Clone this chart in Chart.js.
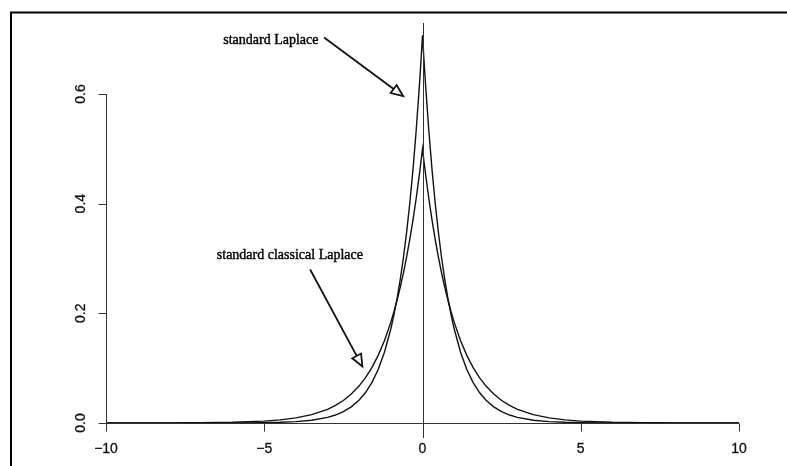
<!DOCTYPE html>
<html>
<head>
<meta charset="utf-8">
<script src="https://cdn.jsdelivr.net/npm/chart.js"></script>
<style>
  html, body { margin: 0; padding: 0; background: #fff; }
  canvas { display: block; }
</style>
</head>
<body>
<canvas id="chart" width="787" height="466"></canvas>
<script>
// x grid (denser near the cusp)
const xs = [-10, -8, -7, -6, -5, -4.5, -4, -3.5, -3, -2.75, -2.5, -2.25, -2, -1.8, -1.6, -1.4, -1.2,
  -1, -0.9, -0.8, -0.7, -0.6, -0.5, -0.4, -0.3, -0.2, -0.1, -0.05, 0,
  0.05, 0.1, 0.2, 0.3, 0.4, 0.5, 0.6, 0.7, 0.8, 0.9, 1,
  1.2, 1.4, 1.6, 1.8, 2, 2.25, 2.5, 2.75, 3, 3.5, 4, 4.5, 5, 6, 7, 8, 10];

// standard Laplace (peak ~0.707)
const stdLaplace = [0, 0, 0, 0.0001, 0.0006, 0.0012, 0.0025, 0.005, 0.0102, 0.0145, 0.0206, 0.0294, 0.0418, 0.0555, 0.0736, 0.0976, 0.1296,
  0.1719, 0.198, 0.2281, 0.2628, 0.3027, 0.3487, 0.4016, 0.4626, 0.5329, 0.6139, 0.6588, 0.7071,
  0.6588, 0.6139, 0.5329, 0.4626, 0.4016, 0.3487, 0.3027, 0.2628, 0.2281, 0.198, 0.1719,
  0.1296, 0.0976, 0.0736, 0.0555, 0.0418, 0.0294, 0.0206, 0.0145, 0.0102, 0.005, 0.0025, 0.0012, 0.0006, 0.0001, 0, 0, 0];

// standard classical Laplace (peak 0.5)
const classLaplace = [0, 0.0002, 0.0005, 0.0012, 0.0034, 0.0056, 0.0092, 0.0151, 0.0249, 0.032, 0.041, 0.0527, 0.0677, 0.0826, 0.1009, 0.1233, 0.1506,
  0.1839, 0.2033, 0.2247, 0.2483, 0.2744, 0.3033, 0.3352, 0.3704, 0.4094, 0.4524, 0.4756, 0.5,
  0.4756, 0.4524, 0.4094, 0.3704, 0.3352, 0.3033, 0.2744, 0.2483, 0.2247, 0.2033, 0.1839,
  0.1506, 0.1233, 0.1009, 0.0826, 0.0677, 0.0527, 0.041, 0.032, 0.0249, 0.0151, 0.0092, 0.0056, 0.0034, 0.0012, 0.0005, 0.0002, 0];

const xTicks = [-10, -5, 0, 5, 10];
const xTickLabels = ["\u221210", "\u22125", "0", "5", "10"];
const yTicks = [0, 0.2, 0.4, 0.6];
const yTickLabels = ["0.0", "0.2", "0.4", "0.6"];

// annotations in data units
const notes = [
  { text: "standard Laplace", x: -4.79, y: 0.697, from: [-3.11, 0.703], to: [-0.607, 0.596] },
  { text: "standard classical Laplace", x: -4.19, y: 0.305, from: [-3.55, 0.280], to: [-1.90, 0.103] }
];

function pts(ys) {
  return xs.map((x, i) => ({ x: x, y: ys[i] }));
}

const axesPlugin = {
  id: "rAxes",
  afterDraw(chart) {
    const ctx = chart.ctx;
    const sx = chart.scales.x, sy = chart.scales.y;
    const area = chart.chartArea;
    const X = v => sx.getPixelForValue(v);
    const Y = v => sy.getPixelForValue(v);
    ctx.save();

    // outer frame (cropped box)
    ctx.strokeStyle = "#000";
    ctx.lineWidth = 2;
    ctx.beginPath();
    ctx.moveTo(11, 466);
    ctx.lineTo(11, 12.5);
    ctx.lineTo(787, 12.5);
    ctx.stroke();

    ctx.strokeStyle = "#333";
    ctx.lineWidth = 1;

    // vertical line at 0
    ctx.beginPath();
    ctx.moveTo(Math.round(X(0)) + 0.5, area.top);
    ctx.lineTo(Math.round(X(0)) + 0.5, area.bottom);
    ctx.stroke();

    // x axis
    const y0 = Math.round(Y(0)) + 0.5;
    ctx.beginPath();
    ctx.moveTo(X(xTicks[0]), y0);
    ctx.lineTo(X(xTicks[xTicks.length - 1]), y0);
    xTicks.forEach(t => {
      const px = Math.round(X(t)) + 0.5;
      ctx.moveTo(px, y0);
      ctx.lineTo(px, y0 + 8);
    });
    ctx.stroke();

    // y axis
    const x0 = Math.round(X(-10)) + 0.5;
    ctx.beginPath();
    ctx.moveTo(x0, Y(yTicks[0]));
    ctx.lineTo(x0, Y(yTicks[yTicks.length - 1]));
    yTicks.forEach(t => {
      const py = Math.round(Y(t)) + 0.5;
      ctx.moveTo(x0, py);
      ctx.lineTo(x0 - 8, py);
    });
    ctx.stroke();

    ctx.fillStyle = "#111";
    ctx.strokeStyle = "#111";
    ctx.lineWidth = 0.3;
    ctx.font = "14px 'Liberation Sans', Arial, sans-serif";
    ctx.textAlign = "center";
    ctx.textBaseline = "middle";
    xTicks.forEach((t, i) => {
      ctx.fillText(xTickLabels[i], X(t), y0 + 26);
      ctx.strokeText(xTickLabels[i], X(t), y0 + 26);
    });
    yTicks.forEach((t, i) => {
      ctx.save();
      ctx.translate(x0 - 25, Y(t));
      ctx.rotate(-Math.PI / 2);
      ctx.fillText(yTickLabels[i], 0, 0);
      ctx.strokeText(yTickLabels[i], 0, 0);
      ctx.restore();
    });

    // annotations
    ctx.font = "14px 'Liberation Serif', 'Times New Roman', serif";
    notes.forEach(n => {
      ctx.fillStyle = "#000";
      ctx.strokeStyle = "#000";
      ctx.lineWidth = 0.4;
      ctx.fillText(n.text, X(n.x), Y(n.y));
      ctx.strokeText(n.text, X(n.x), Y(n.y));
      const ax = X(n.from[0]), ay = Y(n.from[1]);
      const bx = X(n.to[0]), by = Y(n.to[1]);
      const ang = Math.atan2(by - ay, bx - ax);
      const len = 12, half = 5;
      const baseX = bx - len * Math.cos(ang), baseY = by - len * Math.sin(ang);
      ctx.strokeStyle = "#111";
      ctx.lineWidth = 1.8;
      ctx.beginPath();
      ctx.moveTo(ax, ay);
      ctx.lineTo(baseX, baseY);
      ctx.stroke();
      ctx.beginPath();
      ctx.moveTo(bx, by);
      ctx.lineTo(baseX + half * Math.sin(ang), baseY - half * Math.cos(ang));
      ctx.lineTo(baseX - half * Math.sin(ang), baseY + half * Math.cos(ang));
      ctx.closePath();
      ctx.fillStyle = "#fff";
      ctx.fill();
      ctx.stroke();
    });

    ctx.restore();
  }
};

new Chart(document.getElementById("chart"), {
  type: "scatter",
  data: {
    datasets: [
      { label: "standard Laplace", data: pts(stdLaplace), showLine: true, borderColor: "#111", borderWidth: 1.4, pointRadius: 0, tension: 0, clip: false },
      { label: "standard classical Laplace", data: pts(classLaplace), showLine: true, borderColor: "#111", borderWidth: 1.4, pointRadius: 0, tension: 0, clip: false }
    ]
  },
  options: {
    responsive: false,
    animation: false,
    layout: { padding: { left: 106, right: 48, top: 23, bottom: 28 } },
    plugins: { legend: { display: false }, tooltip: { enabled: false } },
    scales: {
      x: { type: "linear", min: -10, max: 10, display: false },
      y: { type: "linear", min: -0.0274, max: 0.7295, display: false }
    }
  },
  plugins: [axesPlugin]
});
</script>
</body>
</html>
